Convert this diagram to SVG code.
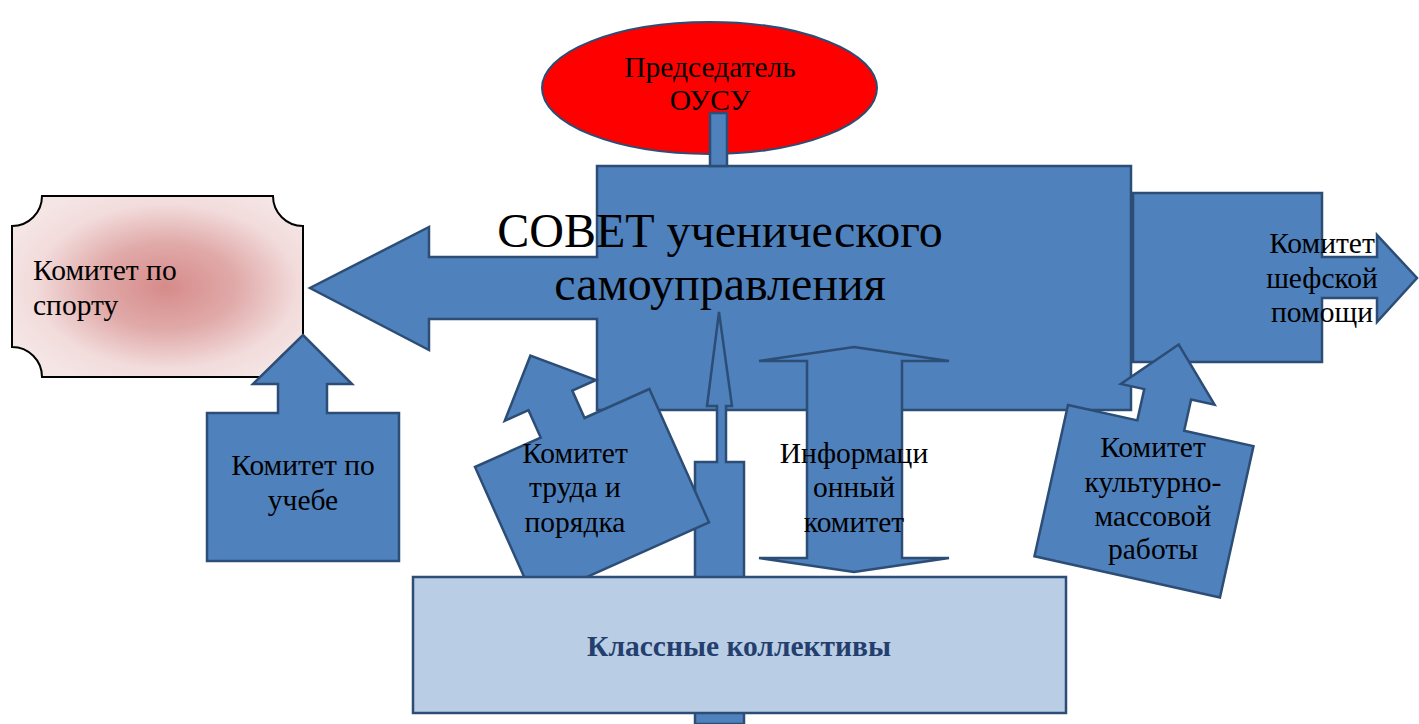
<svg xmlns="http://www.w3.org/2000/svg" width="1419" height="724" viewBox="0 0 1419 724">
<defs>
<radialGradient id="pink" cx="0.53" cy="0.5" r="0.6">
<stop offset="0" stop-color="#d68b8a"/>
<stop offset="0.4" stop-color="#e0aaa9"/>
<stop offset="0.75" stop-color="#f2dbdb"/>
<stop offset="1" stop-color="#f5e6e6"/>
</radialGradient>
</defs>
<style>
.b{fill:#4f81bd;stroke:#2c4d75;stroke-width:2.5;stroke-linejoin:miter}
.t{font-family:"Liberation Serif","Times New Roman",serif;font-size:29.5px;fill:#000;text-anchor:middle}
.big{font-family:"Liberation Serif","Times New Roman",serif;font-size:48px;fill:#000;text-anchor:middle}
.cls{font-family:"Liberation Serif","Times New Roman",serif;font-size:29.5px;font-weight:bold;fill:#243f6e;text-anchor:middle}
</style>
<rect width="1419" height="724" fill="#fff"/>

<g id="chair">
<ellipse cx="709.5" cy="88" rx="167.5" ry="66" fill="#ff0000" stroke="#2c4d75" stroke-width="2"/>
</g>

<g id="council">
<path class="b" d="M597,166 H1131 V410 H597 V319 H429 V350 L310,288 L429,227 V257 H597 Z"/>
</g>

<g id="patronage">
<path class="b" d="M1133,193 H1322 V257 H1377 V235 L1417,278 L1377,322 V298 H1322 V362 H1133 Z"/>
</g>

<g id="connectors">
<rect class="b" x="710" y="113" width="17" height="53"/>
<path class="b" d="M719,312 L732,406 H726 V462 H744 V724 H695 V462 H717 V406 H707 Z"/>
</g>

<g id="sport">
<path d="M42,196 H273 A30,30 0 0 0 303,226 V347 A30,30 0 0 0 273,377 H42 A30,30 0 0 0 12,347 V226 A30,30 0 0 0 42,196 Z" fill="url(#pink)" stroke="#000" stroke-width="2"/>
</g>

<g id="study">
<path class="b" d="M207,413 H278 V384 H253 L303,335 L352,384 H327 V413 H399 V561 H207 Z"/>
</g>

<g id="labour">
<path class="b" transform="translate(475,467) rotate(-24.1)" d="M0,0 H72 V-30 H46 L96,-79 L146,-30 H120 V0 H191 V146 H0 Z"/>
</g>

<g id="info">
<path class="b" d="M854,347 L949,361 H902 V558 H949 L854,572 L759,558 H807 V361 H759 Z"/>
</g>

<g id="culture">
<path class="b" transform="translate(1068,405) rotate(12.5)" d="M0,0 H71 V-32 H47 L95,-83 L143,-32 H119 V0 H190 V155 H0 Z"/>
</g>

<g id="classes">
<rect x="413" y="577" width="653" height="136" fill="#b9cde5" stroke="#2c4d75" stroke-width="2.5"/>
<text class="cls" x="739" y="656">Классные коллективы</text>
</g>

<g id="labels">
<text class="t" x="710" y="77">Председатель</text>
<text class="t" x="710" y="110">ОУСУ</text>
<text class="big" x="720" y="247">СОВЕТ ученического</text>
<text class="big" x="720" y="300">самоуправления</text>
<text class="t" x="1322" y="253">Комитет</text>
<text class="t" x="1322" y="288">шефской</text>
<text class="t" x="1322" y="322">помощи</text>
<text class="t" x="33" y="280" style="text-anchor:start">Комитет по</text>
<text class="t" x="33" y="315" style="text-anchor:start">спорту</text>
<text class="t" x="303" y="475">Комитет по</text>
<text class="t" x="303" y="510">учебе</text>
<text class="t" x="575" y="463">Комитет</text>
<text class="t" x="575" y="497">труда и</text>
<text class="t" x="575" y="532">порядка</text>
<text class="t" x="854" y="463">Информаци</text>
<text class="t" x="854" y="497">онный</text>
<text class="t" x="854" y="532">комитет</text>
<text class="t" x="1153" y="457">Комитет</text>
<text class="t" x="1153" y="492">культурно-</text>
<text class="t" x="1153" y="526">массовой</text>
<text class="t" x="1153" y="559">работы</text>
</g>
</svg>
